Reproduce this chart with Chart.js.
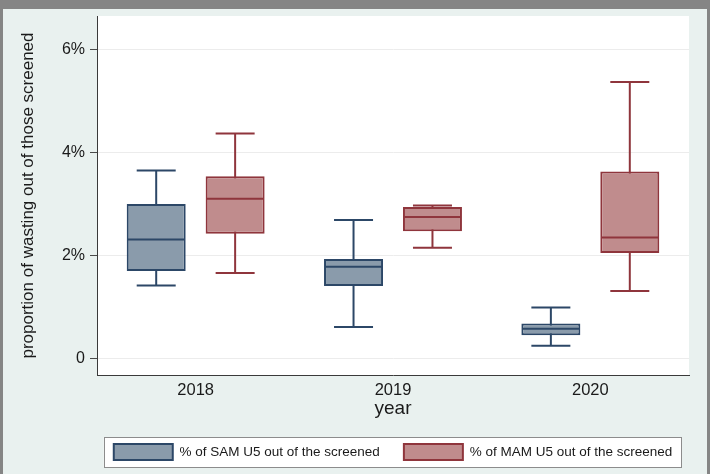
<!DOCTYPE html>
<html>
<head>
<meta charset="utf-8">
<script src="https://cdn.jsdelivr.net/npm/chart.js@4"></script>
<style>
  html, body { margin: 0; padding: 0; }
  body { width: 710px; height: 474px; overflow: hidden; background: #858585; position: relative; }
  #panel { position: absolute; left: 3px; top: 9px; width: 704px; height: 465px; background: #e9f1ef; }
  #wrap { position: absolute; left: 0; top: 0; width: 710px; height: 474px; }
</style>
</head>
<body>
<div id="panel"></div>
<div id="wrap"><canvas id="chartWasting"></canvas></div>
<script>
const years = [2018, 2019, 2020];
const yTickValues = [0, 2, 4, 6];
const yTickLabels = ["0", "2%", "4%", "6%"];

// % of SAM U5 out of the screened (box plot summary per year)
const samMin = [1.42, 0.61, 0.25];
const samQ1 = [1.70, 1.41, 0.45];
const samMedian = [2.31, 1.78, 0.58];
const samQ3 = [3.00, 1.93, 0.68];
const samMax = [3.65, 2.69, 0.99];

// % of MAM U5 out of the screened
const mamMin = [1.66, 2.15, 1.31];
const mamQ1 = [2.42, 2.47, 2.05];
const mamMedian = [3.10, 2.75, 2.35];
const mamQ3 = [3.54, 2.94, 3.63];
const mamMax = [4.37, 2.97, 5.37];

const samFill = "#8a9bab";
const samLine = "#2c4767";
const mamFill = "#c08c8d";
const mamLine = "#8f353c";
const textColor = "#1a1a1a";
const fontFamily = "'Liberation Sans', Arial, sans-serif";
const groupOffset = 0.2;

const ctx = document.getElementById("chartWasting");

function boxSet(label, shift, q1, q3, fill, line) {
  return {
    type: "bar",
    label: label,
    data: years.map((y, i) => ({ x: y + shift, y: [q1[i], q3[i]] })),
    backgroundColor: fill,
    borderColor: line,
    borderWidth: 2,
    borderSkipped: false,
    maxBarThickness: 59,
    order: 2,
  };
}

function whiskerSet(shift, lo, hi, line) {
  return {
    type: "bar",
    data: years.map((y, i) => ({ x: y + shift, y: [lo[i], hi[i]] })),
    backgroundColor: line,
    borderWidth: 0,
    maxBarThickness: 2,
    order: 3,
  };
}

function lineMarks(shift, values, line, radius) {
  const pts = [];
  values.forEach(arr => years.forEach((y, i) => pts.push({ x: y + shift, y: arr[i] })));
  return {
    type: "scatter",
    data: pts,
    pointStyle: "line",
    pointRadius: radius,
    pointHoverRadius: radius,
    pointBorderWidth: 2,
    pointBorderColor: line,
    pointBackgroundColor: line,
    order: 1,
  };
}

const stataFrame = {
  id: "stataFrame",
  afterLayout(chart) {
    // centre the legend under the plot region, like Stata does
    const lg = chart.legend;
    const ca = chart.chartArea;
    const dx = (ca.left + ca.right) / 2 - (lg.left + lg.right) / 2;
    lg.left += dx;
    lg.right += dx;
  },
  beforeDraw(chart) {
    const { ctx, chartArea: ca, legend: lg } = chart;
    ctx.save();
    ctx.fillStyle = "#ffffff";
    ctx.fillRect(ca.left, ca.top, ca.right - ca.left, ca.bottom - ca.top);
    const hb = lg.legendHitBoxes;
    if (hb && hb.length) {
      const first = hb[0];
      const last = hb[hb.length - 1];
      const x0 = first.left - 10;
      const y0 = first.top - 7;
      const x1 = last.left + last.width + 9;
      const y1 = first.top + first.height + 7;
      ctx.fillStyle = "#ffffff";
      ctx.fillRect(x0, y0, x1 - x0, y1 - y0);
      ctx.strokeStyle = "#8c8c8c";
      ctx.lineWidth = 1;
      ctx.strokeRect(Math.round(x0) + 0.5, Math.round(y0) + 0.5, Math.round(x1 - x0), Math.round(y1 - y0));
    }
    ctx.restore();
  },
};

new Chart(ctx, {
  type: "bar",
  data: {
    datasets: [
      boxSet("% of SAM U5 out of the screened", -groupOffset, samQ1, samQ3, samFill, samLine),
      boxSet("% of MAM U5 out of the screened", groupOffset, mamQ1, mamQ3, mamFill, mamLine),
      whiskerSet(-groupOffset, samMin, samMax, samLine),
      whiskerSet(groupOffset, mamMin, mamMax, mamLine),
      lineMarks(-groupOffset, [samMin, samMax], samLine, 19.5),
      lineMarks(groupOffset, [mamMin, mamMax], mamLine, 19.5),
      lineMarks(-groupOffset, [samMedian], samLine, 28.5),
      lineMarks(groupOffset, [mamMedian], mamLine, 28.5),
    ],
  },
  plugins: [stataFrame],
  options: {
    responsive: true,
    maintainAspectRatio: false,
    animation: false,
    events: [],
    datasets: {
      bar: { grouped: false, categoryPercentage: 1, barPercentage: 10 },
    },
    layout: {
      autoPadding: false,
      padding: { top: 16, right: 21, left: 14, bottom: 4 },
    },
    plugins: {
      tooltip: { enabled: false },
      legend: {
        position: "bottom",
        labels: {
          boxWidth: 59,
          boxHeight: 16,
          padding: 24,
          color: textColor,
          font: { family: fontFamily, size: 13.5 },
          filter: item => !!item.text,
        },
      },
    },
    scales: {
      x: {
        type: "linear",
        min: 2017.5,
        max: 2020.5,
        offset: false,
        afterBuildTicks: s => { s.ticks = years.map(v => ({ value: v })); },
        afterFit: s => { s.height = 45; s.paddingLeft = 0; s.paddingRight = 0; },
        ticks: {
          callback: v => String(v),
          color: textColor,
          font: { family: fontFamily, size: 16.5 },
          padding: 6,
          maxRotation: 0,
          autoSkip: false,
        },
        grid: { display: false, drawTicks: false },
        border: { display: true, color: "#3a3a3a", width: 1 },
        title: {
          display: true,
          text: "year",
          color: textColor,
          font: { family: fontFamily, size: 19 },
          padding: { top: 0, bottom: 0 },
        },
      },
      y: {
        min: -0.32,
        max: 6.65,
        stacked: false,
        afterBuildTicks: s => { s.ticks = yTickValues.map(v => ({ value: v })); },
        afterFit: s => { s.width = 83; s.paddingTop = 0; s.paddingBottom = 0; },
        ticks: {
          callback: (v, i) => yTickLabels[i],
          color: textColor,
          font: { family: fontFamily, size: 16 },
          padding: 5,
        },
        grid: { color: "#ececec", tickColor: "#4a4a4a", tickLength: 7, lineWidth: 1 },
        border: { color: "#3a3a3a", width: 1 },
        title: {
          display: true,
          text: "proportion of wasting out of those screened",
          color: textColor,
          font: { family: fontFamily, size: 17 },
          padding: { top: 4, bottom: 4 },
        },
      },
    },
  },
});
</script>
</body>
</html>
